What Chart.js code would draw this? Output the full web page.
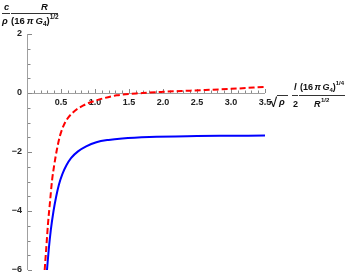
<!DOCTYPE html>
<html>
<head>
<meta charset="utf-8">
<script src="https://cdn.jsdelivr.net/npm/chart.js@4/dist/chart.umd.min.js"></script>
<style>
html,body{margin:0;padding:0;background:#fff;}
#wrap{width:346px;height:276px;position:relative;}
</style>
</head>
<body>
<div id="wrap"><canvas id="c" width="346" height="276"></canvas></div>
<script>
// Blue solid curve
const blueX = [0.294, 0.32, 0.35, 0.39, 0.43, 0.47, 0.52, 0.58, 0.65, 0.75, 0.87, 1.02, 1.2, 1.4, 1.8, 2.5, 3.0, 3.5];
const blueY = [-6.0, -5.3, -4.65, -4.0, -3.5, -3.1, -2.75, -2.45, -2.2, -1.98, -1.81, -1.67, -1.59, -1.54, -1.49, -1.46, -1.45, -1.44];
// Red dashed curve
const redX = [0.26, 0.285, 0.309, 0.34, 0.368, 0.40, 0.437, 0.485, 0.56, 0.68, 0.83, 1.02, 1.32, 1.7, 2.0, 2.4, 3.0, 3.5];
const redY = [-6.0, -5.2, -4.43, -3.65, -2.97, -2.45, -1.95, -1.45, -1.0, -0.65, -0.42, -0.25, -0.08, 0.0, 0.04, 0.08, 0.14, 0.21];
// Tick labels
const xTickValues = [0.5, 1.0, 1.5, 2.0, 2.5, 3.0, 3.5];
const xTickLabels = ["0.5", "1.0", "1.5", "2.0", "2.5", "3.0", "3.5"];
const yTickValues = [2, 0, -2, -4, -6];
const yTickLabels = ["2", "0", "\u22122", "\u22124", "\u22126"];

const pts = (xs, ys) => xs.map((x, i) => ({x: x, y: ys[i]}));

const axesPlugin = {
  id: 'mathAxes',
  beforeDatasetsDraw(chart) {
    const ctx = chart.ctx;
    const xs = chart.scales.x, ys = chart.scales.y;
    const x0 = xs.getPixelForValue(0), y0 = ys.getPixelForValue(0);
    ctx.save();
    ctx.strokeStyle = '#a0a0a0';
    ctx.lineWidth = 1;
    // axis lines
    ctx.beginPath();
    ctx.moveTo(Math.round(xs.left), Math.round(y0) + 0.5);
    ctx.lineTo(Math.round(xs.right), Math.round(y0) + 0.5);
    ctx.moveTo(Math.round(x0) + 0.5, Math.round(ys.top));
    ctx.lineTo(Math.round(x0) + 0.5, Math.round(ys.bottom));
    ctx.stroke();
    // x ticks (minor every 0.1)
    ctx.strokeStyle = '#888';
    ctx.beginPath();
    for (let i = 1; i <= 35; i++) {
      const v = i / 10;
      const px = Math.round(xs.getPixelForValue(v)) + 0.5;
      const len = (i % 5 === 0) ? 4 : 2.5;
      ctx.moveTo(px, Math.round(y0));
      ctx.lineTo(px, Math.round(y0) - len);
    }
    // y ticks (minor every 0.5)
    for (let i = -12; i <= 4; i++) {
      const v = i / 2;
      const py = Math.round(ys.getPixelForValue(v)) + 0.5;
      const len = (i % 4 === 0) ? 4 : 2.5;
      ctx.moveTo(Math.round(x0) + 1, py);
      ctx.lineTo(Math.round(x0) + 1 + len, py);
    }
    ctx.stroke();
    // tick labels
    ctx.fillStyle = '#222';
    ctx.font = 'bold 9px "Liberation Sans", Arial, sans-serif';
    ctx.textAlign = 'center';
    ctx.textBaseline = 'middle';
    xTickValues.forEach((v, i) => {
      ctx.fillText(xTickLabels[i], xs.getPixelForValue(v), y0 + 10);
    });
    ctx.textAlign = 'right';
    yTickValues.forEach((v, i) => {
      ctx.fillText(yTickLabels[i], x0 - 5, ys.getPixelForValue(v));
    });

    // axis labels
    ctx.fillStyle = '#111';
    const it = 'italic bold 9.5px "Liberation Sans", Arial, sans-serif';
    const rg = 'bold 9.5px "Liberation Sans", Arial, sans-serif';
    const sm = 'bold 6.5px "Liberation Sans", Arial, sans-serif';
    ctx.textBaseline = 'alphabetic';
    ctx.textAlign = 'left';
    // y label: c/ρ  R/(16 π G4)^{1/2}
    ctx.font = it; ctx.fillText('c', 4, 10);
    ctx.fillText('R', 41, 10);
    ctx.strokeStyle = '#333';
    ctx.beginPath();
    ctx.moveTo(2, 13.5); ctx.lineTo(10, 13.5);
    ctx.moveTo(11, 13.5); ctx.lineTo(58, 13.5);
    ctx.stroke();
    let x = 2;
    ctx.font = it; ctx.fillText('\u03c1', x, 24);
    x = 11;
    ctx.font = rg; ctx.fillText('(16', x, 24); x += ctx.measureText('(16').width + 2;
    ctx.font = it; ctx.fillText('\u03c0', x, 24); x += ctx.measureText('\u03c0').width + 2;
    ctx.fillText('G', x, 24); x += ctx.measureText('G').width;
    ctx.font = sm; ctx.fillText('4', x, 26); x += ctx.measureText('4').width;
    ctx.font = rg; ctx.fillText(')', x, 24); x += ctx.measureText(')').width;
    ctx.font = sm; ctx.fillText('1/2', x, 19);

    // x label: √ρ  l/2  (16 π G4)^{1/4}/R^{1/2}
    const it9 = 'italic bold 9px "Liberation Sans", Arial, sans-serif';
    const rg9 = 'bold 9px "Liberation Sans", Arial, sans-serif';
    const sm6 = 'bold 6px "Liberation Sans", Arial, sans-serif';
    ctx.font = 'bold 13px "Liberation Sans", Arial, sans-serif';
    ctx.fillText('\u221a', 270, 107);
    ctx.beginPath();
    ctx.moveTo(277, 95.5); ctx.lineTo(288, 95.5);
    ctx.stroke();
    ctx.font = it; ctx.fillText('\u03c1', 279, 105);
    ctx.beginPath();
    ctx.moveTo(292, 95.5); ctx.lineTo(298, 95.5);
    ctx.moveTo(299, 95.5); ctx.lineTo(345, 95.5);
    ctx.stroke();
    ctx.font = it9; ctx.fillText('l', 294, 90);
    ctx.font = rg9; ctx.fillText('2', 293, 107);
    x = 300;
    ctx.font = rg9; ctx.fillText('(16', x, 90); x += ctx.measureText('(16').width + 1.5;
    ctx.font = it9; ctx.fillText('\u03c0', x, 90); x += ctx.measureText('\u03c0').width + 1.5;
    ctx.fillText('G', x, 90); x += ctx.measureText('G').width;
    ctx.font = sm6; ctx.fillText('4', x, 92); x += ctx.measureText('4').width;
    ctx.font = rg9; ctx.fillText(')', x, 90); x += ctx.measureText(')').width;
    ctx.font = sm6; ctx.fillText('1/4', x, 85);
    ctx.font = it9; ctx.fillText('R', 314, 107);
    ctx.font = sm6; ctx.fillText('1/2', 321, 102);
    ctx.restore();
  }
};

new Chart(document.getElementById('c'), {
  type: 'scatter',
  data: {
    datasets: [
      {
        label: 'blue',
        data: pts(blueX, blueY),
        showLine: true,
        borderColor: '#0000ff',
        borderWidth: 2,
        pointRadius: 0,
        cubicInterpolationMode: 'monotone',
        fill: false
      },
      {
        label: 'red',
        data: pts(redX, redY),
        showLine: true,
        borderColor: '#ff0000',
        borderWidth: 2,
        borderDash: [6, 3],
        pointRadius: 0,
        cubicInterpolationMode: 'monotone',
        fill: false
      }
    ]
  },
  options: {
    responsive: false,
    animation: false,
    events: [],
    layout: { padding: { left: 27, right: 81, top: 34, bottom: 6 } },
    plugins: { legend: { display: false }, tooltip: { enabled: false } },
    scales: {
      x: { type: 'linear', min: 0, max: 3.5, display: false },
      y: { type: 'linear', min: -6, max: 2, display: false }
    }
  },
  plugins: [axesPlugin]
});
</script>
</body>
</html>
